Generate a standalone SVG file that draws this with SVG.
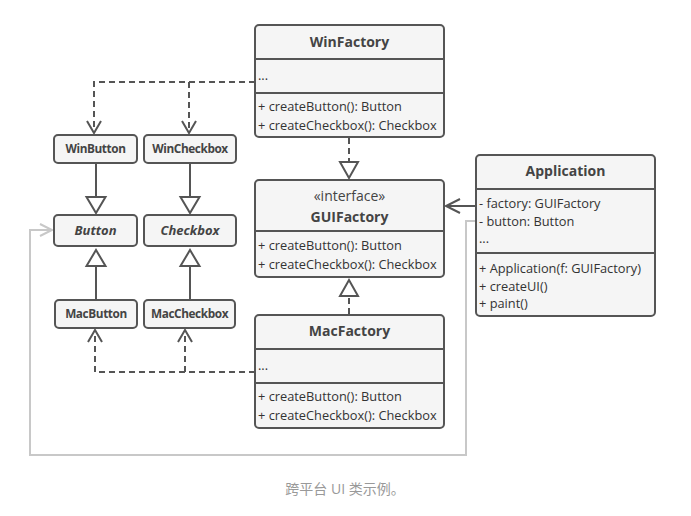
<svg xmlns="http://www.w3.org/2000/svg" width="691" height="516" viewBox="0 0 691 516">
<style>
.box{fill:#f5f5f5;stroke:#555;stroke-width:2}
.div{stroke:#555;stroke-width:2}
.t{font-family:"Open Sans","Liberation Sans",sans-serif;font-size:12.8px;fill:#333}
.b{font-family:"Open Sans","Liberation Sans",sans-serif;font-size:14px;font-weight:bold;fill:#444;text-anchor:middle}
.sb{font-family:"Open Sans","Liberation Sans",sans-serif;font-size:11.8px;font-weight:bold;fill:#444;text-anchor:middle;letter-spacing:-0.4px}
.ln{fill:none;stroke:#555;stroke-width:2}
.dash{fill:none;stroke:#555;stroke-width:2;stroke-dasharray:6 4}
.tri{fill:#fff;stroke:#555;stroke-width:2}
.gray{fill:none;stroke:#c8c8c8;stroke-width:2}
</style>
<g id="connectors">
  <path class="dash" d="M255 82 H94 V132"/>
  <path class="dash" d="M189 82 V132"/>
  <path class="ln" d="M87 121 L94 133 L101 121"/>
  <path class="ln" d="M182 121 L189 133 L196 121"/>
  <path class="dash" d="M255 372 H95 V331"/>
  <path class="dash" d="M185 372 V331"/>
  <path class="ln" d="M88 342 L95 330 L102 342"/>
  <path class="ln" d="M178 342 L185 330 L192 342"/>
  <path class="ln" d="M96 163 V197"/>
  <path class="tri" d="M86.5 197 H105.5 L96 213 Z"/>
  <path class="ln" d="M190 163 V197"/>
  <path class="tri" d="M180.5 197 H199.5 L190 213 Z"/>
  <path class="ln" d="M96 300 V266"/>
  <path class="tri" d="M86.5 266 H105.5 L96 250 Z"/>
  <path class="ln" d="M190 300 V266"/>
  <path class="tri" d="M180.5 266 H199.5 L190 250 Z"/>
  <path class="dash" d="M349 138 V162"/>
  <path class="tri" d="M340 162 H358 L349 178 Z"/>
  <path class="dash" d="M349 314 V296"/>
  <path class="tri" d="M340 296 H358 L349 280 Z"/>
  <path class="ln" d="M476 206 H446"/>
  <path class="ln" d="M460 199 L446 206 L460 213"/>
  <path class="gray" d="M476 221 H466 V455 H30 V230 H52"/>
  <path class="gray" d="M40 224 L52 230 L40 236"/>
</g>
<g id="WinFactory">
  <rect class="box" x="255" y="25" width="189" height="112" rx="4"/>
  <line class="div" x1="255" y1="59" x2="444" y2="59"/>
  <line class="div" x1="255" y1="93" x2="444" y2="93"/>
  <text class="b" x="349.5" y="47">WinFactory</text>
  <text class="t" x="258" y="80">...</text>
  <text class="t" x="258" y="111">+ createButton(): Button</text>
  <text class="t" x="258" y="130">+ createCheckbox(): Checkbox</text>
</g>
<g id="GUIFactory">
  <rect class="box" x="255" y="180" width="189" height="97" rx="4"/>
  <line class="div" x1="255" y1="231" x2="444" y2="231"/>
  <text class="t" x="349.5" y="201" text-anchor="middle" style="font-size:14px;fill:#444">«interface»</text>
  <text class="b" x="349.5" y="222">GUIFactory</text>
  <text class="t" x="258" y="250">+ createButton(): Button</text>
  <text class="t" x="258" y="269">+ createCheckbox(): Checkbox</text>
</g>
<g id="MacFactory">
  <rect class="box" x="255" y="315" width="189" height="113" rx="4"/>
  <line class="div" x1="255" y1="349" x2="444" y2="349"/>
  <line class="div" x1="255" y1="383" x2="444" y2="383"/>
  <text class="b" x="349.5" y="336">MacFactory</text>
  <text class="t" x="258" y="370">...</text>
  <text class="t" x="258" y="401">+ createButton(): Button</text>
  <text class="t" x="258" y="420">+ createCheckbox(): Checkbox</text>
</g>
<g id="Application">
  <rect class="box" x="476" y="155" width="179" height="161" rx="4"/>
  <line class="div" x1="476" y1="189" x2="655" y2="189"/>
  <line class="div" x1="476" y1="253" x2="655" y2="253"/>
  <text class="b" x="565.5" y="176">Application</text>
  <text class="t" x="479" y="208">- factory: GUIFactory</text>
  <text class="t" x="479" y="226">- button: Button</text>
  <text class="t" x="479" y="243">...</text>
  <text class="t" x="479" y="273">+ Application(f: GUIFactory)</text>
  <text class="t" x="479" y="291">+ createUI()</text>
  <text class="t" x="479" y="308">+ paint()</text>
</g>
<g id="WinButton">
  <rect class="box" x="54" y="135" width="83" height="28" rx="4"/>
  <text class="sb" x="95.5" y="153">WinButton</text>
</g>
<g id="WinCheckbox">
  <rect class="box" x="144" y="135" width="92" height="28" rx="4"/>
  <text class="sb" x="190" y="153">WinCheckbox</text>
</g>
<g id="Button">
  <rect class="box" x="54" y="215" width="83" height="31" rx="4"/>
  <text class="b" x="95.5" y="235" font-style="italic" style="font-size:13px">Button</text>
</g>
<g id="Checkbox">
  <rect class="box" x="144" y="215" width="92" height="31" rx="4"/>
  <text class="b" x="190" y="235" font-style="italic" style="font-size:13px">Checkbox</text>
</g>
<g id="MacButton">
  <rect class="box" x="55" y="300" width="82" height="28" rx="4"/>
  <text class="sb" x="96" y="318">MacButton</text>
</g>
<g id="MacCheckbox">
  <rect class="box" x="144" y="300" width="91" height="28" rx="4"/>
  <text class="sb" x="189.5" y="318">MacCheckbox</text>
</g>
<text x="345" y="494" text-anchor="middle" style="font-family:'Open Sans','Noto Sans CJK SC',sans-serif;font-size:14px;fill:#999">跨平台 UI 类示例。</text>
</svg>
